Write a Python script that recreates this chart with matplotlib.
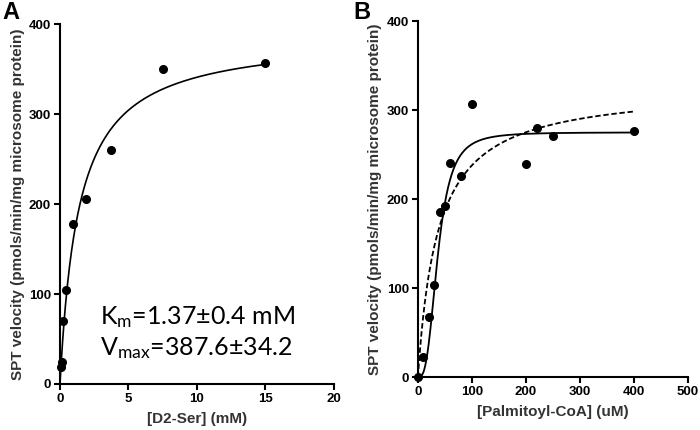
import numpy as np
import matplotlib
matplotlib.use("Agg")
import matplotlib.pyplot as plt

plt.rcParams['font.family'] = ['Liberation Sans', 'DejaVu Sans']
plt.rcParams['mathtext.fontset'] = 'custom'
plt.rcParams['mathtext.rm'] = 'Lato'
plt.rcParams['mathtext.it'] = 'Lato'

# panel A: D2-Ser
ser_conc = [15, 7.5, 3.75, 1.875, 0.9375, 0.469, 0.234, 0.117, 0.059]
ser_vel = [356.6, 350, 260, 206, 178, 104.5, 70, 24.8, 19.3]
ser_km = 1.37
ser_vmax = 387.6

# panel B: Palmitoyl-CoA
pcoa_conc = [0, 10, 20, 30, 40, 50, 60, 80, 100, 200, 220, 250, 400]
pcoa_vel = [0, 23, 68, 104, 185, 192, 241, 226, 307, 239, 280, 271, 277]
# fit params
hill_vmax, hill_k, hill_n = 275, 37, 3.0
mm_vmax, mm_km = 326, 37

ylabel = "SPT velocity (pmols/min/mg microsome protein)"
lab_color = "#333333"

fig = plt.figure(figsize=(7, 4.3), dpi=100)
axA = fig.add_axes([0.0857, 0.107, 0.391, 0.837])
axB = fig.add_axes([0.597, 0.123, 0.386, 0.828])


def style_axes(ax):
    for s in ["top", "right"]:
        ax.spines[s].set_visible(False)
    for s in ["left", "bottom"]:
        ax.spines[s].set_linewidth(1.5)
    ax.tick_params(width=1.5, length=4, labelsize=9.5, colors="black", pad=2.5)
    for lab in ax.get_xticklabels() + ax.get_yticklabels():
        lab.set_fontweight("bold")


# A
xs = np.linspace(0, 15, 300)
axA.plot(xs, ser_vmax * xs / (ser_km + xs), color="black", lw=1.2)
axA.plot(ser_conc, ser_vel, "o", color="black", ms=5.5, clip_on=False)
axA.set_xlim(0, 20)
axA.set_ylim(0, 400)
axA.set_xticks([0, 5, 10, 15, 20])
axA.set_yticks([0, 100, 200, 300, 400])
style_axes(axA)
axA.set_xlabel("[D2-Ser] (mM)", fontsize=11, fontweight="bold", color=lab_color, labelpad=5)
axA.set_ylabel(ylabel, fontsize=11, fontweight="bold", color=lab_color, labelpad=3)
axA.text(2.92, 67, r"K$_\mathrm{m}$=1.37±0.4 mM", fontsize=18, family="Lato", color="black")
axA.text(2.92, 32, r"V$_\mathrm{max}$=387.6±34.2", fontsize=18, family="Lato", color="black")

# B
xb = np.linspace(0, 400, 500)
axB.plot(xb, hill_vmax * xb**hill_n / (hill_k**hill_n + xb**hill_n), color="black", lw=1.3)
axB.plot(xb, mm_vmax * xb / (mm_km + xb), color="black", lw=1.3, ls=(0, (3, 1.5)))
axB.plot(pcoa_conc, pcoa_vel, "o", color="black", ms=5.5, clip_on=False)
axB.set_xlim(0, 500)
axB.set_ylim(0, 400)
axB.set_xticks([0, 100, 200, 300, 400, 500])
axB.set_yticks([0, 100, 200, 300, 400])
style_axes(axB)
axB.set_xlabel("[Palmitoyl-CoA] (uM)", fontsize=11, fontweight="bold", color=lab_color, labelpad=5)
axB.set_ylabel(ylabel, fontsize=11, fontweight="bold", color=lab_color, labelpad=3)

fig.text(0.003, 0.997, "A", fontsize=17, fontweight="bold", va="top", ha="left")
fig.text(0.505, 0.997, "B", fontsize=17, fontweight="bold", va="top", ha="left")

fig.savefig("out.png", dpi=100)
